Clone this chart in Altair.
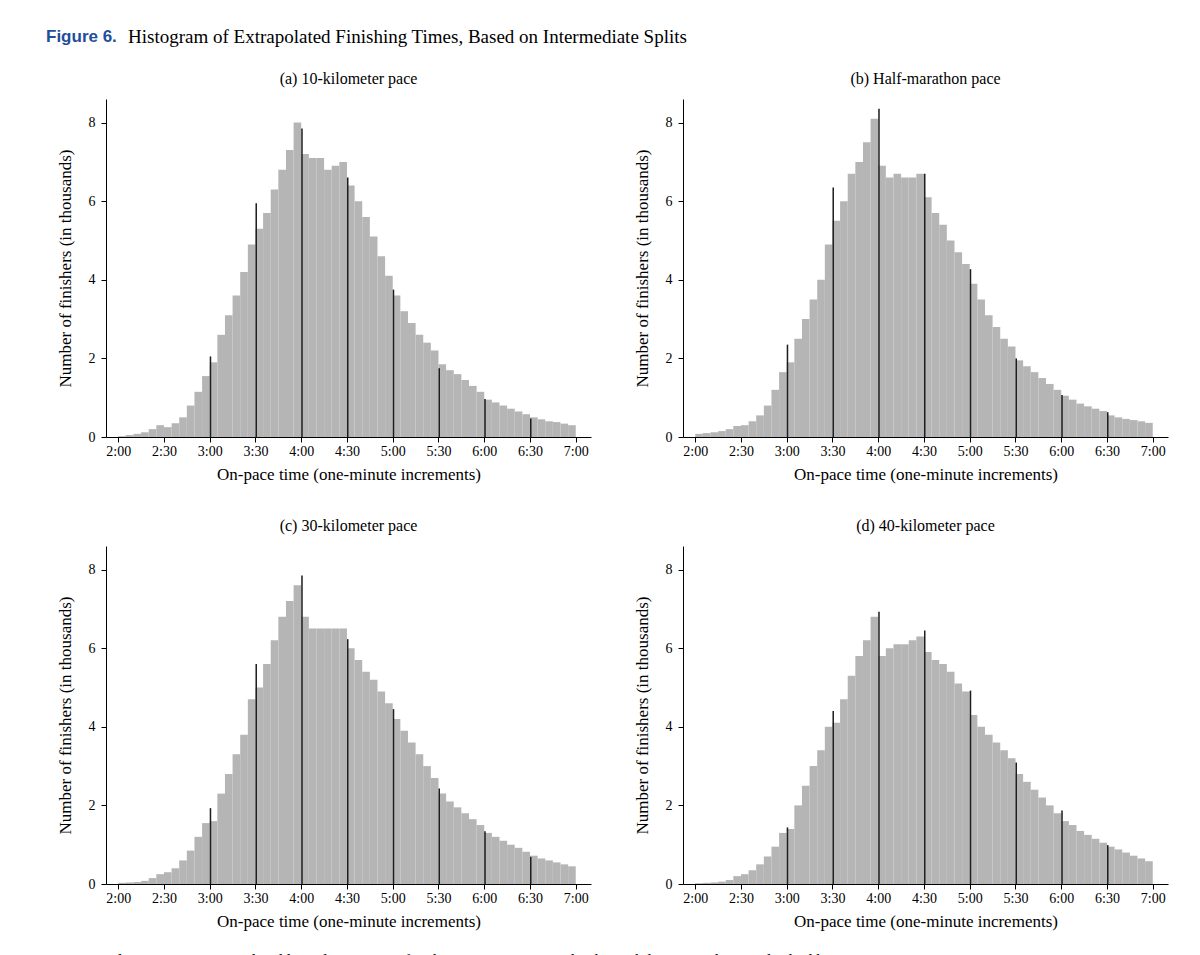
import altair as alt
import pandas as pd

# bin starts in minutes (5-minute groups from 2:00 to 7:00)
bin_starts = list(range(120, 420, 5))
spike_mins = [180, 210, 240, 270, 300, 330, 360, 390]

vals_a = [0.02, 0.05, 0.08, 0.12, 0.2, 0.3,
          0.25, 0.35, 0.5, 0.8, 1.15, 1.55,
          1.9, 2.6, 3.1, 3.6, 4.2, 4.9,
          5.3, 5.7, 6.3, 6.8, 7.3, 8.0,
          7.2, 7.1, 7.1, 6.8, 6.9, 7.0,
          6.4, 6.0, 5.6, 5.1, 4.6, 4.1,
          3.6, 3.2, 2.9, 2.6, 2.4, 2.2,
          1.85, 1.7, 1.6, 1.45, 1.3, 1.15,
          0.95, 0.88, 0.8, 0.72, 0.65, 0.58,
          0.5, 0.45, 0.4, 0.38, 0.34, 0.3]
spikes_a = [2.05, 5.95, 7.85, 6.6, 3.75, 1.75, 0.97, 0.47]

vals_b = [0.08, 0.1, 0.12, 0.15, 0.2, 0.28,
          0.3, 0.4, 0.55, 0.8, 1.2, 1.65,
          1.9, 2.5, 3.0, 3.5, 4.0, 4.9,
          5.5, 6.0, 6.7, 7.0, 7.5, 8.1,
          6.9, 6.6, 6.7, 6.6, 6.6, 6.7,
          6.1, 5.7, 5.4, 5.0, 4.7, 4.4,
          3.9, 3.5, 3.1, 2.8, 2.5, 2.3,
          1.95, 1.8, 1.65, 1.5, 1.35, 1.2,
          1.05, 0.95, 0.85, 0.78, 0.72, 0.66,
          0.55, 0.5, 0.46, 0.43, 0.4, 0.36]
spikes_b = [2.35, 6.35, 8.35, 6.7, 4.27, 2.0, 1.07, 0.63]

vals_c = [0.03, 0.04, 0.05, 0.08, 0.15, 0.25,
          0.3, 0.4, 0.6, 0.85, 1.2, 1.55,
          1.6, 2.3, 2.8, 3.3, 3.8, 4.7,
          5.0, 5.6, 6.2, 6.8, 7.2, 7.6,
          6.8, 6.5, 6.5, 6.5, 6.5, 6.5,
          6.0, 5.7, 5.4, 5.2, 4.9, 4.6,
          4.2, 3.9, 3.6, 3.3, 3.0, 2.7,
          2.3, 2.1, 1.95, 1.8, 1.65, 1.5,
          1.3, 1.2, 1.1, 1.0, 0.92, 0.82,
          0.72, 0.65, 0.6, 0.55, 0.5, 0.45]
spikes_c = [1.93, 5.6, 7.85, 6.23, 4.45, 2.43, 1.34, 0.69]

vals_d = [0.02, 0.03, 0.04, 0.06, 0.1, 0.2,
          0.25, 0.35, 0.5, 0.7, 0.95, 1.3,
          1.4, 2.0, 2.5, 3.0, 3.4, 4.0,
          4.1, 4.7, 5.3, 5.8, 6.2, 6.8,
          5.8, 6.0, 6.1, 6.1, 6.2, 6.3,
          5.9, 5.7, 5.6, 5.4, 5.1, 4.9,
          4.3, 4.0, 3.8, 3.6, 3.4, 3.2,
          2.8, 2.6, 2.4, 2.2, 2.0, 1.8,
          1.6, 1.5, 1.35, 1.25, 1.15, 1.05,
          0.95, 0.88, 0.8, 0.72, 0.65, 0.58]
spikes_d = [1.44, 4.4, 6.93, 6.45, 4.92, 3.09, 1.87, 0.99]

panels = [
    ("(a) 10-kilometer pace", vals_a, spikes_a),
    ("(b) Half-marathon pace", vals_b, spikes_b),
    ("(c) 30-kilometer pace", vals_c, spikes_c),
    ("(d) 40-kilometer pace", vals_d, spikes_d),
]

SERIF = "Liberation Serif"
XDOM = [112, 430]
YDOM = [0, 8.6]


def panel(title, vals, spikes):
    bins = pd.DataFrame({"start": bin_starts, "end": [b + 5 for b in bin_starts], "n": vals})
    sp = pd.DataFrame({"start": spike_mins, "end": [m + 1 for m in spike_mins], "n": spikes})

    x = alt.X("start:Q", scale=alt.Scale(domain=XDOM, nice=False, zero=False),
              axis=alt.Axis(values=list(range(120, 421, 30)),
                            labelExpr="floor(datum.value/60) + ':' + (datum.value % 60 == 0 ? '00' : '30')",
                            title="On-pace time (one-minute increments)"))
    y = alt.Y("n:Q", scale=alt.Scale(domain=YDOM, nice=False),
              axis=alt.Axis(values=[0, 2, 4, 6, 8], title="Number of finishers (in thousands)"))

    gray = alt.Chart(bins).mark_rect(color="#b5b5b5").encode(x=x, x2="end:Q", y=y, y2=alt.datum(0))
    dark = alt.Chart(sp).mark_rect(color="#1e1e1e").encode(x="start:Q", x2="end:Q", y="n:Q", y2=alt.datum(0))

    return (gray + dark).properties(
        width=485, height=338,
        title=alt.TitleParams(title, font=SERIF, fontSize=16, fontWeight="normal", color="black", offset=12)
    )


header = alt.Chart(pd.DataFrame({"a": [0]})).mark_text(
    align="left", baseline="middle", font="Liberation Sans", fontWeight="bold", fontSize=17, color="#1f4e9a"
).encode(x=alt.value(-60), y=alt.value(0), text=alt.value("Figure 6.")) + alt.Chart(pd.DataFrame({"a": [0]})).mark_text(
    align="left", baseline="middle", font=SERIF, fontSize=19, color="black"
).encode(x=alt.value(22), y=alt.value(0), text=alt.value("Histogram of Extrapolated Finishing Times, Based on Intermediate Splits"))
header = header.properties(width=1000, height=1)

footer = alt.Chart(pd.DataFrame({"a": [0]})).mark_text(
    align="left", baseline="middle", font=SERIF, fontSize=16, fontStyle="italic", color="black"
).encode(x=alt.value(-58), y=alt.value(0), text=alt.value("Notes.")) + alt.Chart(pd.DataFrame({"a": [0]})).mark_text(
    align="left", baseline="middle", font=SERIF, fontSize=16, color="black"
).encode(x=alt.value(-5), y=alt.value(0), text=alt.value(
    "Splits times are extrapolated linearly to project finishing time. For example, the 10-kilometer split is multiplied by 4.2195."))
footer = footer.properties(width=1000, height=1)

p = [panel(*args) for args in panels]
grid = alt.vconcat(
    alt.hconcat(p[0], p[1], spacing=42),
    alt.hconcat(p[2], p[3], spacing=42),
    spacing=36,
)

chart = alt.vconcat(header, grid, footer, spacing=24).properties(
    padding={"left": 38, "top": 20, "right": 5, "bottom": 5}
).configure_view(stroke=None).configure_axis(
    grid=False, domainColor="black", tickColor="black", tickSize=5,
    labelFont=SERIF, labelFontSize=14, labelColor="black",
    titleFont=SERIF, titleFontSize=17, titleFontWeight="normal", titleColor="black",
).configure_axisY(labelPadding=6, titlePadding=14).configure_axisX(titlePadding=8)

chart.save("out.html", embed_options={"renderer": "svg", "actions": False})
